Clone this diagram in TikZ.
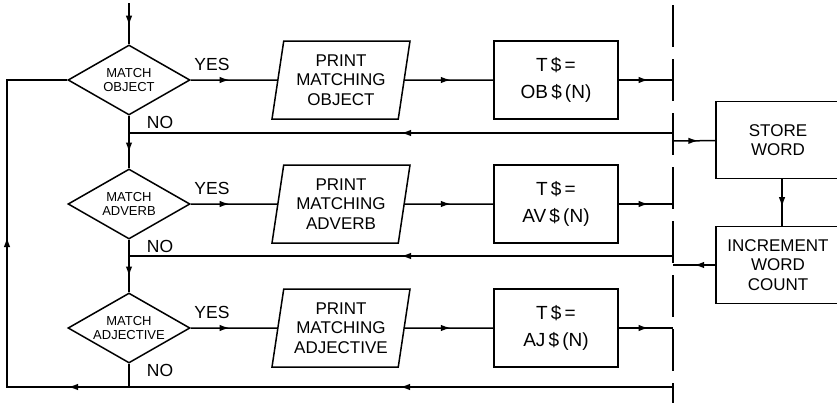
\documentclass[tikz,border=0pt]{standalone}
\usepackage{fontspec}
\setmainfont{Liberation Sans}
\usetikzlibrary{shapes.geometric,arrows.meta,decorations.markings}

\begin{document}
\begin{tikzpicture}[x=1pt,y=-1pt,
        line width=1.5pt,
        dec/.style={diamond,draw,aspect=1.74,minimum width=122pt,minimum height=70pt,inner sep=0pt,align=center,font=\fontsize{13}{14.5}\selectfont},
        io/.style={trapezium,trapezium left angle=77,trapezium right angle=103,trapezium stretches body,draw,minimum width=138pt,minimum height=78pt,inner sep=0pt,align=center,font=\fontsize{17}{19.5}\selectfont},
        asg/.style={rectangle,draw,minimum width=124pt,minimum height=78pt,inner sep=0pt,align=center,font=\fontsize{19}{27}\selectfont},
        box/.style={rectangle,draw,minimum width=124pt,minimum height=77pt,inner sep=0pt,align=center,font=\fontsize{17}{19.5}\selectfont},
        lbl/.style={font=\fontsize{17.5}{17.5}\selectfont,inner sep=0pt},
        bus/.style={line width=2.8pt,dash pattern=on 42pt off 12pt},
        flow/.style={postaction={decorate,decoration={markings,mark=at position #1 with {\arrow{Latex[length=10pt,width=6.5pt]}}}}}
    ]
    \useasboundingbox (0,0) rectangle (837,407);
    \clip (0,0) rectangle (837,407);
    % Dashed separator
    \coordinate (bustop) at (673,5);
    \coordinate (busbot) at (673,403);
    \draw[bus] (bustop) -- (busbot);
    % The three matching rows
    \foreach \r/\y/\wrd/\ab in {1/80/OBJECT/OB, 2/204/ADVERB/AV, 3/328/ADJECTIVE/AJ} {
        \node[dec] (dia\r) at (129,\y) {MATCH\\\wrd};
        \node[io]  (prt\r) at (341,\y) {PRINT\\MATCHING\\\wrd};
        \node[asg] (asg\r) at (556,\y) {T\,\$\,=\\\ab\,\$\,(N)};
        \coordinate (bus\r) at (673,\y);
        \node[lbl] at (212,\y-16) {YES};
        \node[lbl] at (160,\y+42) {NO};
        \draw[flow=0.45] (dia\r) -- (prt\r);
        \draw[flow=0.52] (prt\r) -- (asg\r);
        \draw[flow=0.55] (asg\r) -- (bus\r);
    }
    % Entry and downward links
    \coordinate (start) at (129,3);
    \draw[flow=0.55] (start) -- (dia1);
    \draw[flow=0.7] (dia1) -- (dia2);
    \draw[flow=0.7] (dia2) -- (dia3);
    % Return lines from the separator
    \coordinate (ret1) at (673,133);
    \coordinate (ret2) at (673,256);
    \coordinate (ret3) at (673,387);
    \coordinate (j1) at (129,133);
    \coordinate (j2) at (129,256);
    \coordinate (j3) at (129,387);
    \coordinate (lowleft) at (7,387);
    \coordinate (upleft) at (7,80);
    \draw[flow=0.5] (ret1) -- (j1);
    \draw[flow=0.5] (ret2) -- (j2);
    \draw (dia3) -- (j3);
    \draw[postaction={decorate,decoration={markings,
            mark=at position 273pt with {\arrow{Latex[length=10pt,width=6.5pt]}},
            mark=at position 605pt with {\arrow{Latex[length=10pt,width=6.5pt]}},
            mark=at position 816pt with {\arrow{Latex[length=10pt,width=6.5pt]}}}}]
        (ret3) -- (lowleft) -- (upleft) -- (dia1);
    % Word store side
    \node[box] (store) at (778,140) {STORE\\WORD};
    \node[box] (incr) at (778,265) {INCREMENT\\WORD\\COUNT};
    \coordinate (bus0) at (673,141);
    \coordinate (bus4) at (673,265);
    \draw[flow=0.6] (bus0) -- (store);
    \draw[flow=0.6] ([xshift=4pt]store.south) -- ([xshift=4pt]incr.north);
    \draw[flow=0.5] (incr) -- (bus4);
\end{tikzpicture}
\end{document}
